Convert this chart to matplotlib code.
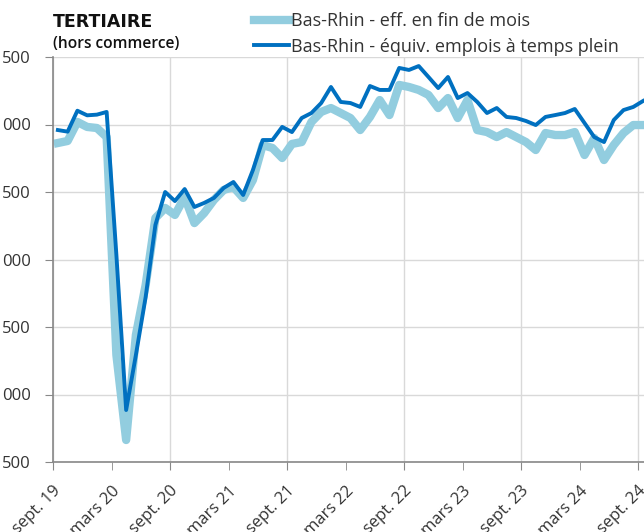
import numpy as np
import matplotlib
matplotlib.use("Agg")
import matplotlib.pyplot as plt
import matplotlib.transforms as mtransforms

plt.rcParams["font.family"] = ["Open Sans", "DejaVu Sans"]

# monthly values, sept. 2019 -> sept. 2024
eff_fin_mois = [5863, 5878, 6019, 5982, 5974, 5907, 4293, 3663, 4441, 4811,
                5307, 5382, 5330, 5463, 5270, 5344, 5441, 5515, 5537, 5456,
                5589, 5848, 5826, 5752, 5856, 5870, 6019, 6093, 6122, 6085,
                6048, 5959, 6056, 6181, 6070, 6293, 6278, 6256, 6219, 6122,
                6196, 6048, 6181, 5959, 5944, 5907, 5944, 5907, 5870, 5811,
                5937, 5922, 5922, 5944, 5774, 5900, 5737, 5848, 5937, 5996,
                5996]
equiv_etp = [5959, 5947, 6102, 6068, 6073, 6093, 5033, 3885, 4293, 4722,
             5256, 5500, 5433, 5522, 5389, 5419, 5456, 5530, 5574, 5478,
             5663, 5885, 5885, 5982, 5944, 6048, 6085, 6159, 6278, 6167,
             6159, 6130, 6285, 6256, 6256, 6419, 6404, 6433, 6352, 6270,
             6352, 6196, 6233, 6167, 6085, 6122, 6056, 6048, 6026, 5996,
             6056, 6070, 6085, 6115, 6011, 5907, 5870, 6033, 6107, 6130,
             6174]

sept_labels = ["sept. 19", "sept. 20", "sept. 21", "sept. 22", "sept. 23", "sept. 24"]
mars_labels = ["mars 20", "mars 21", "mars 22", "mars 23", "mars 24"]
y_ticks = [3500, 4000, 4500, 5000, 5500, 6000, 6500]

x = np.arange(len(eff_fin_mois)) + 0.5

fig = plt.figure(figsize=(6.44, 5.32), dpi=100)
ax = fig.add_axes([53 / 644, 1 - 462 / 532, 1 - 53 / 644, (462 - 57) / 532])

ax.plot(x, eff_fin_mois, color="#92cddf", lw=6,
        label="Bas-Rhin - eff. en fin de mois")
ax.plot(x, equiv_etp, color="#0070c0", lw=2.8,
        label="Bas-Rhin - équiv. emplois à temps plein")

ax.set_xlim(0, 60.6)
ax.set_ylim(3500, 6500)

ax.set_yticks(y_ticks)
ax.set_yticklabels([f"{v % 1000:03d}" for v in y_ticks])
ax.set_xticks(np.arange(0, 61, 12))
ax.set_xticklabels(sept_labels)
ax.set_xticks(np.arange(6, 60, 12), minor=True)
ax.set_xticklabels(mars_labels, minor=True)

# rotated labels, nudged a bit to the right like the original
shift = mtransforms.ScaledTranslation(4 / 100, 0, fig.dpi_scale_trans)
for lab in ax.get_xticklabels(which="both"):
    lab.set_rotation(45)
    lab.set_ha("right")
    lab.set_rotation_mode("anchor")
    lab.set_transform(lab.get_transform() + shift)

ax.tick_params(axis="both", which="both", length=6, color="#888888",
               labelsize=12, labelcolor="#333333")
ax.tick_params(axis="y", pad=10)
ax.tick_params(axis="x", which="both", pad=9)

ax.grid(axis="y", color="#d9d9d9", lw=1)
ax.grid(axis="x", which="major", color="#d9d9d9", lw=1)
ax.set_axisbelow(True)

for s in ["top", "right"]:
    ax.spines[s].set_visible(False)
for s in ["left", "bottom"]:
    ax.spines[s].set_color("#888888")
    ax.spines[s].set_linewidth(1.2)

fig.text(53 / 644, 1 - 22 / 532, "TERTIAIRE", fontsize=12.5,
         family=["DejaVu Sans"], fontweight="bold",
         va="center", ha="left", color="#111111")
fig.text(53 / 644, 1 - 44 / 532, "(hors commerce)", fontsize=11.2,
         fontweight="semibold", va="center", ha="left", color="#111111")

fig.legend(loc="upper left", bbox_to_anchor=(254 / 644, 1 - 12 / 532),
           frameon=False, fontsize=13,
           handlelength=1.95, handletextpad=0.12, labelspacing=0.42,
           borderaxespad=0, borderpad=0, labelcolor="#333333")

fig.savefig("out.png", dpi=100)
